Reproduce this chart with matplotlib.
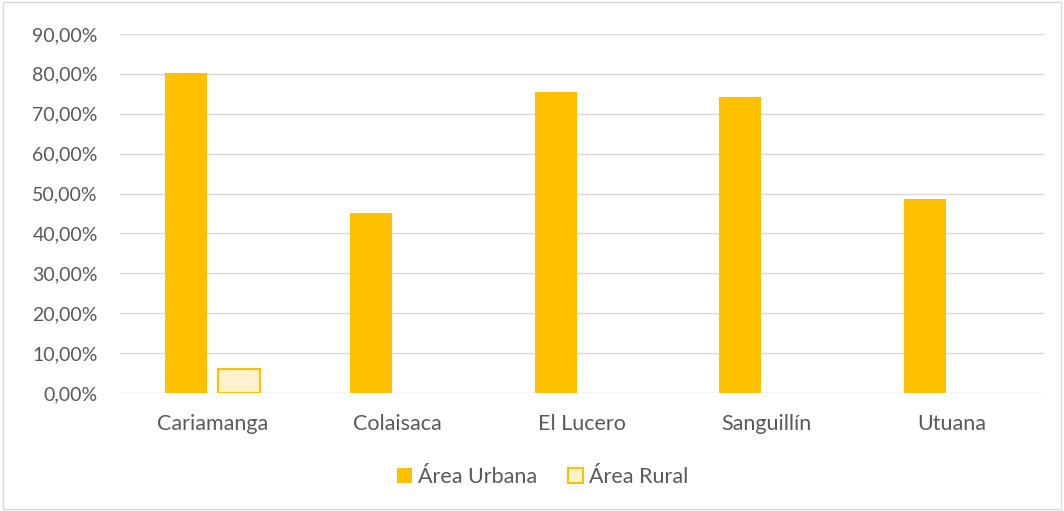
import numpy as np
import matplotlib.pyplot as plt
from matplotlib.patches import Rectangle
from matplotlib.ticker import FuncFormatter

categories = ['Cariamanga', 'Colaisaca', 'El Lucero', 'Sanguillín', 'Utuana']
urbana = [80.2, 45.1, 75.4, 74.2, 48.6]
rural = [6.0, 0.0, 0.0, 0.0, 0.0]
series_names = ['Área Urbana', 'Área Rural']

plt.rcParams['font.family'] = ['Lato', 'DejaVu Sans']
text_color = '#595959'

fig = plt.figure(figsize=(10.64, 5.11), dpi=100)
ax = fig.add_axes([0.1128, 0.2309, 0.8684, 0.7026])

x = np.arange(len(categories))
w = 0.227
off = 0.143
ax.bar(x - off, urbana, w, color='#FFC000', zorder=3, label=series_names[0])
ax.bar(x + off, rural, w, color='#FFF2CC', edgecolor='#FFC000',
       linewidth=[1.5 if v > 0 else 0 for v in rural], zorder=3,
       label=series_names[1])

ax.set_xlim(-0.5, len(categories) - 0.5)
ax.set_ylim(0, 90)
ax.set_yticks(np.arange(0, 91, 10))
ax.yaxis.set_major_formatter(FuncFormatter(lambda v, p: f'{v:.2f}%'.replace('.', ',')))
ax.set_xticks(x)
ax.set_xticklabels(categories)
ax.grid(axis='y', color='#D9D9D9', linewidth=1, zorder=0)
for s in ax.spines.values():
    s.set_visible(False)
ax.tick_params(length=0, colors=text_color)
ax.tick_params(axis='y', pad=16, labelsize=14)
ax.tick_params(axis='x', pad=15, labelsize=15.5)

leg = fig.legend(loc='center', bbox_to_anchor=(0.51, 0.066), ncol=2, frameon=False,
                 fontsize=15.5, handlelength=0.7, handleheight=0.7, handletextpad=0.3,
                 columnspacing=1.4)
for t in leg.get_texts():
    t.set_color(text_color)

fig.patches.append(Rectangle((0.003, 0.003), 0.994, 0.994, transform=fig.transFigure,
                             fill=False, edgecolor='#D9D9D9', linewidth=1))

fig.savefig('out.png', dpi=100)
